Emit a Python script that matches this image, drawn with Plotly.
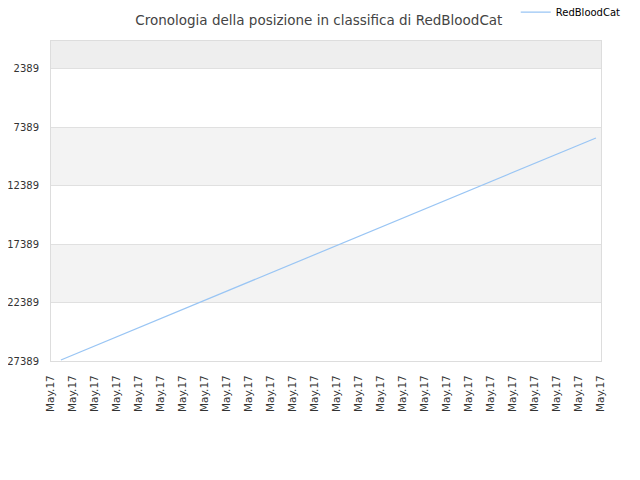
import plotly.graph_objects as go

# Data
tick_labels = ["May.17"] * 26
tick_positions = list(range(26))
series_name = "RedBloodCat"
x_points = [0.45, 24.77]
rank_values = [27300, 8300]
y_ticks = [2389, 7389, 12389, 17389, 22389, 27389]
y_tick_labels = [str(v) for v in y_ticks]
y_range = [27389, 0]

fig = go.Figure()
fig.add_trace(go.Scatter(
    x=x_points, y=rank_values, mode="lines", name=series_name,
    line=dict(color="#99c5f4", width=1.2),
))

# alternating background bands
band_edges = [0] + y_ticks
shapes = []
for i in range(len(band_edges) - 1):
    if i % 2 == 0:
        shapes.append(dict(
            type="rect", xref="paper", yref="y", x0=0, x1=1,
            y0=band_edges[i], y1=band_edges[i + 1],
            fillcolor="#eeeeee" if i == 0 else "#f3f3f3",
            line=dict(width=0), layer="below",
        ))

fig.update_layout(
    width=640, height=480,
    margin=dict(l=43, r=47, t=33, b=127, autoexpand=False),
    paper_bgcolor="white", plot_bgcolor="white",
    font=dict(family="DejaVu Sans", size=10, color="#333"),
    title=dict(text="Cronologia della posizione in classifica di RedBloodCat",
               x=0.487, xref="paper", xanchor="center", y=0.975, yanchor="middle",
               font=dict(size=13.5, color="#444")),
    showlegend=True,
    legend=dict(orientation="h", x=0.845, xref="paper", y=1.09, yanchor="middle",
                xanchor="left", font=dict(size=10, color="#000"), bgcolor="rgba(0,0,0,0)"),
    shapes=shapes,
    xaxis=dict(range=[0, 25], tickmode="array", tickvals=tick_positions,
               ticktext=tick_labels, tickangle=-90, showgrid=False, automargin=False,
               showline=True, linecolor="#dddddd", mirror=True, zeroline=False,
               ticks="", ticklabelstandoff=9, tickfont=dict(size=10.5, color="#333")),
    yaxis=dict(range=y_range, tickmode="array", tickvals=y_ticks, ticktext=y_tick_labels,
               showgrid=True, gridcolor="#e0e0e0", showline=True, automargin=False,
               linecolor="#dddddd", mirror=True, zeroline=False, ticks="",
               ticklabelstandoff=9, tickfont=dict(size=10, color="#333")),
)

fig.write_html("out.html")
